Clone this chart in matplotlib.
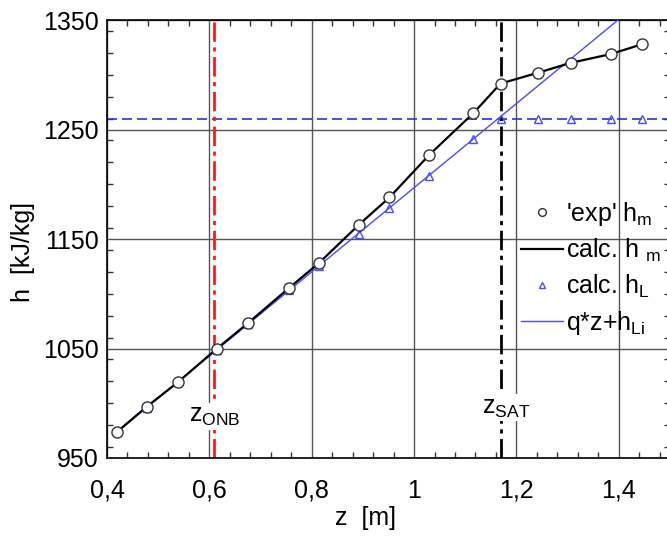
import matplotlib
matplotlib.use("Agg")
from matplotlib import pyplot as plt
from matplotlib.ticker import MultipleLocator

plt.rcParams['font.family'] = ['Liberation Sans', 'DejaVu Sans']
plt.rcParams['mathtext.default'] = 'regular'

# measured mixture enthalpy along the channel
z = [0.42, 0.478, 0.538, 0.615, 0.675, 0.755, 0.814, 0.892, 0.952, 1.030,
     1.116, 1.169, 1.243, 1.307, 1.385, 1.446]
h_exp = [974, 997, 1019, 1050, 1073, 1105, 1128, 1163, 1188, 1227,
         1265, 1292, 1302, 1311, 1319, 1328]
# calculated liquid enthalpy (capped at saturation)
h_liq = [974, 996, 1019, 1049, 1072, 1103, 1125, 1155, 1178, 1208,
         1241, 1260, 1260, 1260, 1260, 1260]
# straight line q*z + h_Li, two end points
line_z = [0.42, 1.5]
line_h = [974, 1389]

h_sat = 1260
z_onb = 0.61
z_sat = 1.17

xticks = [0.4, 0.6, 0.8, 1.0, 1.2, 1.4]
xlabels = ['0,4', '0,6', '0,8', '1', '1,2', '1,4']
yticks = [950, 1050, 1150, 1250, 1350]

FS = 18

fig = plt.figure(figsize=(6.67, 5.38), dpi=100)
ax = fig.add_axes([0.1604, 0.1487, 0.844, 0.814])

ax.grid(True, color='#555555', lw=1.0, zorder=0)
ax.axhline(h_sat, color='#2b2bff', lw=1.2, ls=(0, (6, 3)), zorder=2)
ax.axvline(z_onb, color='#ff1a1a', lw=2.0, ls=(0, (7, 2, 1.5, 2)), zorder=2)
ax.axvline(z_sat, color='black', lw=2.0, ls=(0, (7, 2, 1.5, 2)), zorder=2)

ax.plot(line_z, line_h, color='#4a4aff', lw=1.0, zorder=3, label='q*z+h$_{Li}$')
ax.plot(z, h_exp, color='black', lw=1.6, zorder=4, label='calc. h $_m$')
ax.plot(z, h_liq, ls='none', marker='^', ms=6, mfc='none', mec='#4a4aff',
        mew=1.0, zorder=5, label='calc. h$_L$')
ax.plot(z, h_exp, ls='none', marker='o', ms=8, mfc='white', mec='#333333',
        mew=1.0, zorder=6, label="'exp' h$_m$")

box = dict(facecolor='white', edgecolor='none', pad=1)
ax.text(z_onb, 988, 'z$_{ONB}$', fontsize=FS, ha='center', va='center',
        bbox=box, zorder=7)
ax.text(1.18, 996, 'z$_{SAT}$', fontsize=FS, ha='center', va='center',
        bbox=box, zorder=7)

ax.set_xlim(0.4, 1.5)
ax.set_ylim(950, 1350)
ax.set_xticks(xticks, xlabels)
ax.set_yticks(yticks)
ax.xaxis.set_minor_locator(MultipleLocator(0.04))
ax.yaxis.set_minor_locator(MultipleLocator(20))
ax.tick_params(which='both', direction='in', top=True, right=True,
               labelsize=FS, width=1.0, color='#333333')
ax.tick_params(which='major', length=0, pad=6)
ax.tick_params(axis='x', which='major', pad=15)
ax.tick_params(which='minor', length=4)
for s in ax.spines.values():
    s.set_linewidth(1.2)

ax.set_xlabel('z  [m]', fontsize=FS)
ax.set_ylabel('h  [kJ/kg]', fontsize=FS)
ax.xaxis.set_label_coords(0.46, -0.11)
ax.yaxis.set_label_coords(-0.128, 0.47)

handles, labels = ax.get_legend_handles_labels()
order = [3, 1, 2, 0]
ax.legend([handles[i] for i in order], [labels[i] for i in order],
          loc='upper left', bbox_to_anchor=(0.735, 0.59), frameon=False,
          fontsize=FS, markerscale=0.7, handlelength=1.7, handletextpad=0.1,
          labelspacing=0.36, borderaxespad=0, borderpad=0)

fig.savefig('out.png', dpi=100)
